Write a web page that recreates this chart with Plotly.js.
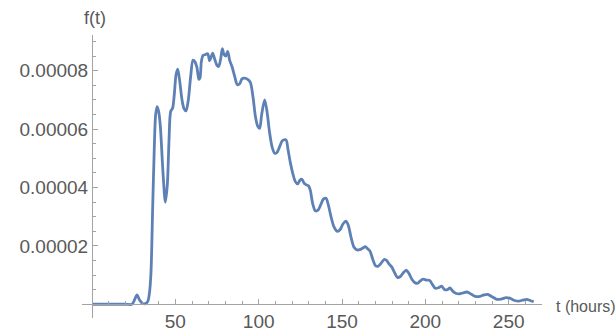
<!DOCTYPE html>
<html>
<head>
<meta charset="utf-8">
<script src="https://cdn.plot.ly/plotly-3.0.1.min.js"></script>
<style>html,body{margin:0;padding:0;background:#fff;}#chart{width:616px;height:335px;}</style>
</head>
<body>
<div id="chart"></div>
<script>
const hours = [0, 10, 20, 24, 25.5, 27, 28.5, 30, 32, 33.5, 34.5, 35.4, 36.4, 37.4, 38.2, 39.1, 40, 41, 42.6, 44, 45.2, 46.2, 47.2, 48.4, 49.4, 50.4, 51.4, 52.5, 54, 55.2, 56.4, 57.8, 59.2, 60.6, 61.8, 63, 64.1, 64.8, 65.6, 66.6, 68, 69.4, 70.6, 71.4, 72.4, 73.6, 75, 76, 77.2, 78.2, 79.2, 80.2, 81.4, 82.6, 84, 85.6, 87.2, 88.6, 90, 91.6, 93.4, 95, 96.6, 98, 99.4, 100.6, 101.8, 103.6, 105, 106.5, 108, 109.6, 111, 112.6, 114.2, 116.4, 117.6, 119, 120.6, 122, 123.4, 124.8, 126, 127.2, 128.6, 130, 131, 132.4, 134, 135.6, 137.2, 138.8, 140.4, 141.8, 143.4, 145.2, 147.2, 148.8, 150.6, 152.4, 153.8, 155.4, 157.2, 159, 160.6, 162.6, 164, 165.4, 166.8, 168.4, 170, 171.6, 173.4, 175.4, 176.8, 178.2, 179.8, 181.4, 183.2, 185, 186.8, 188.6, 190.2, 192, 193.8, 195.4, 197, 198.6, 200.5, 202.6, 204.2, 206, 208, 209.8, 211.6, 213.2, 214.8, 216.6, 218.6, 220.6, 222.6, 225, 227.4, 230, 232.8, 235.2, 237.4, 240, 242.8, 245.5, 248.6, 251, 253.6, 256, 258.4, 260.8, 262.8, 265];
const density = [0, 0, 0, 0, 0.15e-5, 0.32e-5, 0.15e-5, 0.04e-5, 0.02e-5, 0.1e-5, 0.4e-5, 1.1e-5, 3.3e-5, 5.4e-5, 6.5e-5, 6.77e-5, 6.6e-5, 6.1e-5, 4.5e-5, 3.5e-5, 4.1e-5, 5.6e-5, 6.6e-5, 6.72e-5, 7.2e-5, 7.85e-5, 8.05e-5, 7.7e-5, 7.0e-5, 6.7e-5, 6.62e-5, 7.0e-5, 7.8e-5, 8.36e-5, 8.3e-5, 8.1e-5, 7.7e-5, 7.75e-5, 8.3e-5, 8.52e-5, 8.55e-5, 8.58e-5, 8.34e-5, 8.45e-5, 8.6e-5, 8.4e-5, 8.18e-5, 8.14e-5, 8.4e-5, 8.75e-5, 8.55e-5, 8.5e-5, 8.66e-5, 8.35e-5, 8.14e-5, 7.8e-5, 7.52e-5, 7.55e-5, 7.72e-5, 7.74e-5, 7.7e-5, 7.6e-5, 7.1e-5, 6.45e-5, 6.1e-5, 6.02e-5, 6.5e-5, 7.0e-5, 6.6e-5, 5.9e-5, 5.4e-5, 5.17e-5, 5.2e-5, 5.4e-5, 5.6e-5, 5.63e-5, 5.3e-5, 4.85e-5, 4.45e-5, 4.2e-5, 4.12e-5, 4.25e-5, 4.28e-5, 4.15e-5, 4.09e-5, 4.05e-5, 3.9e-5, 3.45e-5, 3.2e-5, 3.22e-5, 3.4e-5, 3.6e-5, 3.63e-5, 3.4e-5, 3.0e-5, 2.65e-5, 2.5e-5, 2.55e-5, 2.75e-5, 2.85e-5, 2.7e-5, 2.3e-5, 1.95e-5, 1.86e-5, 1.87e-5, 1.93e-5, 1.97e-5, 1.9e-5, 1.82e-5, 1.55e-5, 1.33e-5, 1.3e-5, 1.4e-5, 1.54e-5, 1.5e-5, 1.38e-5, 1.28e-5, 1.1e-5, 0.92e-5, 0.95e-5, 1.08e-5, 1.17e-5, 1.05e-5, 0.85e-5, 0.74e-5, 0.72e-5, 0.8e-5, 0.86e-5, 0.83e-5, 0.82e-5, 0.68e-5, 0.55e-5, 0.57e-5, 0.62e-5, 0.5e-5, 0.5e-5, 0.56e-5, 0.44e-5, 0.37e-5, 0.36e-5, 0.39e-5, 0.42e-5, 0.35e-5, 0.27e-5, 0.27e-5, 0.32e-5, 0.34e-5, 0.26e-5, 0.17e-5, 0.18e-5, 0.23e-5, 0.2e-5, 0.13e-5, 0.11e-5, 0.14e-5, 0.17e-5, 0.13e-5, 0.09e-5];
const xTickVals = [50, 100, 150, 200, 250];
const xTickText = ["50", "100", "150", "200", "250"];
const yTickVals = [0.00002, 0.00004, 0.00006, 0.00008];
const yTickText = ["0.00002", "0.00004", "0.00006", "0.00008"];
const xLabel = "t (hours)";
const yLabel = "f(t)";

const xRange = [-6, 270];
const yRange = [-0.0000047, 0.0000922];
const axisColor = "#a3a3a3";
const textColor = "#595959";
const fontFam = "Liberation Sans, Arial, sans-serif";

const trace = {
  x: hours, y: density, type: "scatter", mode: "lines",
  line: {color: "#5e81b5", width: 2.8, shape: "spline", smoothing: 0.8},
  hoverinfo: "skip"
};

const layout = {
  width: 616, height: 335,
  margin: {l: 82, r: 74, t: 35, b: 17},
  paper_bgcolor: "#ffffff", plot_bgcolor: "#ffffff",
  showlegend: false,
  font: {family: fontFam, size: 17, color: textColor},
  xaxis: {
    range: xRange, showgrid: false, zeroline: false,
    anchor: "free", position: (0 - yRange[0]) / (yRange[1] - yRange[0]),
    showline: true, linecolor: axisColor, linewidth: 1,
    tickmode: "array", tickvals: xTickVals, ticktext: xTickText,
    ticks: "inside", ticklen: 5, tickwidth: 1, tickcolor: axisColor,
    minor: {tickmode: "linear", tick0: 0, dtick: 10, ticks: "inside", ticklen: 3, tickcolor: axisColor, showgrid: false},
    tickfont: {family: fontFam, size: 19, color: textColor},
    automargin: false, fixedrange: true
  },
  yaxis: {
    range: yRange, showgrid: false, zeroline: false,
    anchor: "free", position: (0 - xRange[0]) / (xRange[1] - xRange[0]),
    showline: true, linecolor: axisColor, linewidth: 1,
    tickmode: "array", tickvals: yTickVals, ticktext: yTickText,
    ticks: "inside", ticklen: 5, tickwidth: 1, tickcolor: axisColor,
    minor: {tickmode: "linear", tick0: 0, dtick: 0.000005, ticks: "inside", ticklen: 3, tickcolor: axisColor, showgrid: false},
    tickfont: {family: fontFam, size: 19, color: textColor},
    automargin: false, fixedrange: true
  },
  annotations: [
    {text: yLabel, xref: "paper", yref: "paper", x: 0.028, y: 1.06, xanchor: "center", yanchor: "middle", showarrow: false,
     font: {family: fontFam, size: 18, color: textColor}},
    {text: xLabel, xref: "paper", yref: "paper", x: 1.026, y: 0.039, xanchor: "left", yanchor: "middle", showarrow: false,
     font: {family: fontFam, size: 16, color: textColor}}
  ]
};

Plotly.newPlot("chart", [trace], layout, {displayModeBar: false, staticPlot: true});
</script>
</body>
</html>
